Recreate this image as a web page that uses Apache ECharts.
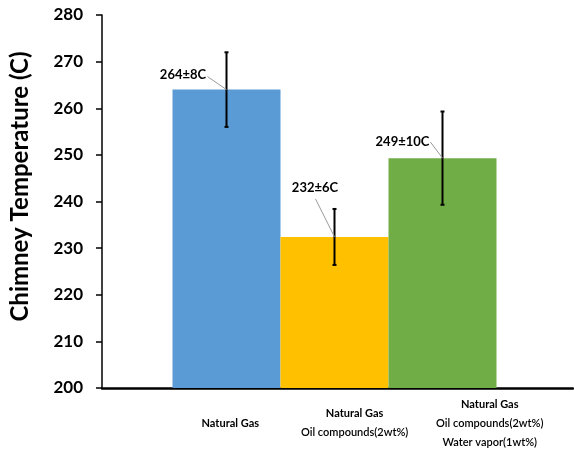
<!DOCTYPE html>
<html>
<head>
<meta charset="utf-8">
<script src="https://cdn.jsdelivr.net/npm/echarts@6/dist/echarts.min.js"></script>
<style>
html,body{margin:0;padding:0;background:#fff;}
#chart{width:574px;height:455px;}
</style>
</head>
<body>
<div id="chart"></div>
<script>
// ---- data ----
const categories = [
  ['Natural Gas'],
  ['Natural Gas', 'Oil compounds(2wt%)'],
  ['Natural Gas', 'Oil compounds(2wt%)', 'Water vapor(1wt%)']
];
const temperatures = [264, 232.4, 249.3];
const errors = [8, 6, 10];
const valueLabels = ['264±8C', '232±6C', '249±10C'];
const yMin = 200, yMax = 280, yStep = 10;
const barColors = ['#5B9BD5', '#FFC000', '#70AD47'];

// ---- layout / style config ----
const FONT = 'Lato';
const labelCenters = [131, 258, 396];          // x-label centres within the axis grid (px from left)
const labelOffset = [[-43.5, -15], [-19.5, -49], [-40, -16]];   // value label centre relative to bar top
const leaderStart = [[-19, -13], [-19, -38], [-12, -16]];

const chart = echarts.init(document.getElementById('chart'));

const option = {
  backgroundColor: '#ffffff',
  animation: false,
  grid: [
    { left: 92, right: 1, top: 15, bottom: 67 },
    { left: 172.5, width: 324, top: 15, bottom: 67 }
  ],
  xAxis: [
    {
      type: 'value', gridIndex: 0, min: 0, max: 481,
      axisLine: { show: true, onZero: false, lineStyle: { color: '#000', width: 2.5 } },
      axisTick: { show: false },
      splitLine: { show: false },
      axisLabel: {
        customValues: labelCenters,
        margin: 35,
        verticalAlign: 'middle',
        align: 'center',
        formatter: function (v) {
          const i = labelCenters.indexOf(v);
          if (i < 0) return '';
          return categories[i].map((s, k) => (k === 0 ? '{b|' + s + '}' : '{n|' + s + '}')).join('\n');
        },
        rich: {
          b: { fontFamily: FONT, fontWeight: 'bold', fontSize: 11, color: '#000', lineHeight: 19 },
          n: { fontFamily: FONT, fontWeight: 600, fontSize: 11, color: '#000', lineHeight: 19 }
        }
      }
    },
    {
      type: 'category', gridIndex: 1,
      data: categories.map(c => c.join(' ')),
      show: false
    }
  ],
  yAxis: [
    {
      type: 'value', gridIndex: 0, min: yMin, max: yMax, interval: yStep,
      name: 'Chimney Temperature (C)',
      nameLocation: 'middle',
      nameGap: 70,
      nameTextStyle: { fontFamily: FONT, fontWeight: 'bold', fontSize: 24, color: '#000', padding: [0, 0, 0, 30] },
      axisLine: { show: true, onZero: false, lineStyle: { color: '#000', width: 1.5 } },
      axisTick: { show: true, length: 6, lineStyle: { color: '#000', width: 1.5 } },
      splitLine: { show: false },
      axisLabel: { fontFamily: FONT, fontWeight: 'bold', fontSize: 17, color: '#000', margin: 19 }
    },
    {
      type: 'value', gridIndex: 1, min: yMin, max: yMax, interval: yStep, show: false,
      splitLine: { show: false }
    }
  ],
  series: [
    {
      type: 'bar',
      xAxisIndex: 1, yAxisIndex: 1,
      barWidth: '100%',
      barGap: '0%',
      data: temperatures.map((v, i) => ({ value: v, itemStyle: { color: barColors[i] } })),
      z: 2
    },
    {
      type: 'custom',
      xAxisIndex: 1, yAxisIndex: 1,
      data: temperatures.map((v, i) => [i, v, errors[i]]),
      z: 5,
      renderItem: function (params, api) {
        const i = api.value(0);
        const v = api.value(1);
        const e = api.value(2);
        const p = api.coord([i, v]);
        const hi = api.coord([i, v + e]);
        const lo = api.coord([i, v - e]);
        const x = p[0];
        const off = labelOffset[params.dataIndex];
        const ls = leaderStart[params.dataIndex];
        return {
          type: 'group',
          children: [
            { type: 'line', shape: { x1: x, y1: hi[1], x2: x, y2: lo[1] }, style: { stroke: '#000', lineWidth: 2 } },
            { type: 'line', shape: { x1: x - 2, y1: hi[1], x2: x + 2, y2: hi[1] }, style: { stroke: '#000', lineWidth: 2 } },
            { type: 'line', shape: { x1: x - 2, y1: lo[1], x2: x + 2, y2: lo[1] }, style: { stroke: '#000', lineWidth: 2 } },
            { type: 'line', shape: { x1: x + ls[0], y1: p[1] + ls[1], x2: x, y2: p[1] }, style: { stroke: '#9a9a9a', lineWidth: 1 } },
            {
              type: 'text',
              style: {
                text: valueLabels[params.dataIndex],
                x: x + off[0], y: p[1] + off[1],
                align: 'center', verticalAlign: 'middle',
                fontFamily: FONT, fontWeight: 'bold', fontSize: 13, fill: '#000'
              }
            }
          ]
        };
      }
    }
  ]
};
chart.setOption(option);
</script>
</body>
</html>
